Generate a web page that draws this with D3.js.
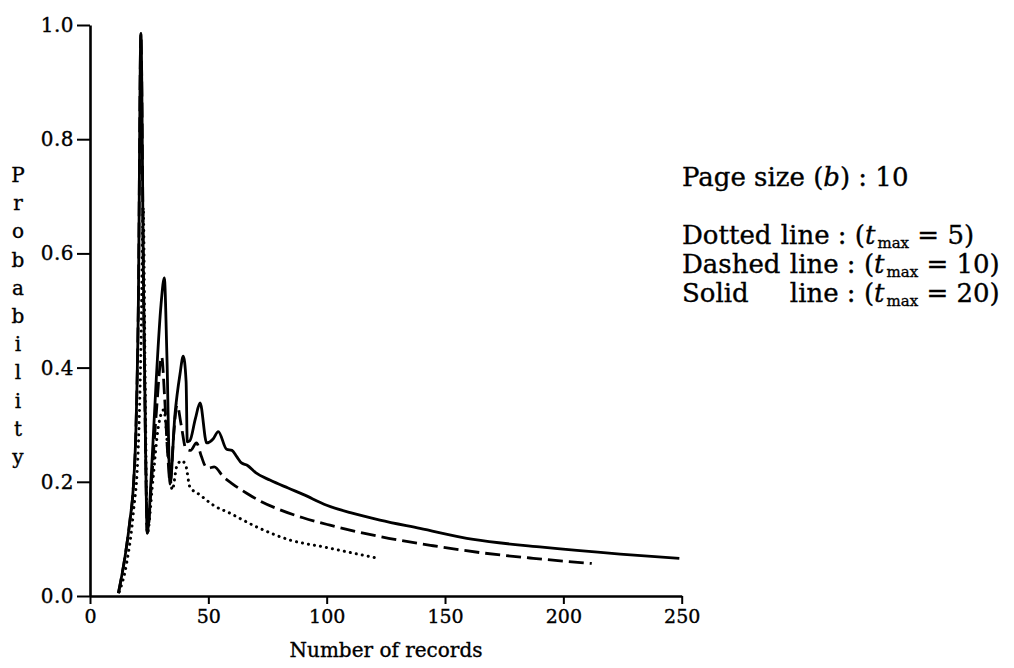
<!DOCTYPE html>
<html>
<head>
<meta charset="utf-8">
<script src="https://cdn.jsdelivr.net/npm/d3@7"></script>
<style>
  html, body { margin: 0; padding: 0; background: #fff; }
  svg { display: block; }
  text { font-family: "DejaVu Serif", serif; fill: #000; stroke: #000; stroke-width: 0.35px; }
</style>
</head>
<body>
<svg id="chart" width="1014" height="668"></svg>
<script>
// Probability curves against number of records (page size b = 10)

// Solid line, t_max = 20
const solidX = [12, 14.8, 16.9, 18.3, 19.4, 20.4, 21.5, 22.6, 23.5, 24.2, 26, 28, 30, 31.4, 32.5, 33.8,
  35.9, 38, 39.4, 40.6, 41.1, 42.2, 44.5, 46.5, 49.3, 52, 54.2, 57.7, 60, 62, 64, 66.4, 70, 76, 83.7,
  90, 100, 110, 122.5, 139.4, 162, 190, 224, 249];
const solidY = [0.005, 0.069, 0.133, 0.19, 0.29, 0.5, 0.985, 0.55, 0.25, 0.11, 0.22, 0.38, 0.51, 0.557, 0.42, 0.196,
  0.318, 0.388, 0.42, 0.376, 0.27, 0.272, 0.31, 0.338, 0.268, 0.275, 0.288, 0.257, 0.255, 0.244, 0.233, 0.229, 0.216, 0.203, 0.189,
  0.178, 0.159, 0.146, 0.133, 0.1185, 0.099, 0.086, 0.0735, 0.066];

// Dashed line, t_max = 10
const dashedX = [12, 14.8, 16.9, 18.3, 19.4, 20.4, 21.5, 22.6, 23.5, 24.2, 26, 28, 30.3, 31.5, 32.8, 33.9,
  35.3, 36.8, 38.5, 40.5, 42.5, 45, 47, 48.8, 50, 52.5, 56.3, 60, 66.2, 72, 80.3, 90, 101.4, 122.5,
  145, 164.8, 187.3, 212];
const dashedY = [0.005, 0.069, 0.133, 0.19, 0.29, 0.5, 0.985, 0.55, 0.25, 0.11, 0.2, 0.32, 0.419, 0.35, 0.25, 0.198,
  0.28, 0.335, 0.3, 0.258, 0.255, 0.268, 0.245, 0.227, 0.224, 0.226, 0.209, 0.197, 0.18, 0.166, 0.151, 0.137, 0.124, 0.104,
  0.088, 0.076, 0.066, 0.057];

// Dotted line, t_max = 5
const dottedX = [12.4, 15.5, 18.3, 20.4, 21.6, 22.5, 23.3, 24.2, 26.5, 28.9, 31.2, 33, 34.8, 36.6, 38.7, 40.5,
  42.2, 46.5, 52.1, 59.1, 70.4, 84.5, 98.6, 111.2, 121.8];
const dottedY = [0.0075, 0.058, 0.145, 0.26, 0.45, 0.68, 0.38, 0.11, 0.2, 0.297, 0.326, 0.25, 0.186, 0.226, 0.237, 0.228,
  0.191, 0.177, 0.159, 0.145, 0.121, 0.098, 0.086, 0.075, 0.066];

// Axis ticks and labels
const xTicks = [0, 50, 100, 150, 200, 250];
const yTicks = [0.0, 0.2, 0.4, 0.6, 0.8, 1.0];
const xTitle = "Number of records";
const yTitle = "Probability";

// Legend text
const pageSizeLabel = ["Page size (", "b", ") : 10"];
const legendNames = ["Dotted", "Dashed", "Solid"];
const legendTmax = ["5", "10", "20"];

const svg = d3.select("#chart");
const x = d3.scaleLinear().domain([0, 250]).range([90, 681.7]);
const y = d3.scaleLinear().domain([0, 1]).range([596, 25]);

// Axes
const yAxis = svg.append("g")
  .attr("transform", `translate(${x(0)},0)`)
  .call(d3.axisLeft(y).tickValues(yTicks).tickFormat(d3.format(".1f"))
    .tickSize(13).tickSizeOuter(0).tickPadding(3));
const xAxis = svg.append("g")
  .attr("transform", `translate(0,${y(0)})`)
  .call(d3.axisBottom(x).tickValues(xTicks).tickFormat(d3.format("d"))
    .tickSize(8).tickSizeOuter(0).tickPadding(6));

[yAxis, xAxis].forEach(g => {
  g.attr("font-family", null).attr("font-size", null);
  g.select(".domain").attr("stroke", "#000").attr("stroke-width", 2.6);
  g.selectAll(".tick line").attr("stroke", "#000").attr("stroke-width", 2);
  g.selectAll(".tick text")
    .style("font-family", "'DejaVu Serif', serif")
    .style("font-size", "19px");
});
yAxis.selectAll(".tick text").style("font-size", "20px").attr("letter-spacing", 0.5);

// Axis titles
svg.append("text")
  .attr("x", 386).attr("y", 657)
  .attr("text-anchor", "middle")
  .style("font-size", "20px")
  .text(xTitle);

svg.append("g").selectAll("text")
  .data(yTitle.split(""))
  .join("text")
  .attr("x", 18)
  .attr("y", (d, i) => 182 + i * 28.2)
  .attr("text-anchor", "middle")
  .style("font-size", "20px")
  .text(d => d);

// Curves
const line = d3.line()
  .x(d => x(d[0]))
  .y(d => y(d[1]))
  .curve(d3.curveMonotoneX);

const zipXY = (xs, ys) => xs.map((v, i) => [v, ys[i]]);

svg.append("path")
  .datum(zipXY(dottedX, dottedY))
  .attr("fill", "none").attr("stroke", "#000")
  .attr("stroke-width", 3)
  .attr("stroke-linecap", "round")
  .attr("stroke-dasharray", "0.1,6")
  .attr("d", line);

svg.append("path")
  .datum(zipXY(dashedX, dashedY))
  .attr("fill", "none").attr("stroke", "#000")
  .attr("stroke-width", 2.8)
  .attr("stroke-dasharray", "15,6")
  .attr("d", line);

svg.append("path")
  .datum(zipXY(solidX, solidY))
  .attr("fill", "none").attr("stroke", "#000")
  .attr("stroke-width", 2.8)
  .attr("stroke-linejoin", "round")
  .attr("d", line);

// Legend
const legendX = 682;
const fs = 26;
const pg = svg.append("text").attr("x", legendX).attr("y", 186).style("font-size", fs + "px");
pg.append("tspan").text(pageSizeLabel[0]);
pg.append("tspan").attr("font-style", "italic").text(pageSizeLabel[1]);
pg.append("tspan").text(pageSizeLabel[2]);

const rowY = [244, 273, 302];
const gap = fs * 0.36;
let restX = null;
legendNames.forEach((name, i) => {
  const nameText = svg.append("text")
    .attr("x", legendX).attr("y", rowY[i]).style("font-size", fs + "px")
    .text(name);
  const w = nameText.node().getComputedTextLength();
  let rx = legendX + w + gap;
  if (name === "Dashed") restX = rx;
  if (name === "Solid") rx = restX;
  const t = svg.append("text").attr("x", rx).attr("y", rowY[i]).style("font-size", fs + "px");
  t.append("tspan").text("line : (");
  t.append("tspan").attr("font-style", "italic").text("t");
  t.append("tspan").style("font-size", "15px").attr("dx", 2).attr("dy", 4).text("max");
  t.append("tspan").attr("dy", -4).text("\u00a0= " + legendTmax[i] + ")");
});
</script>
</body>
</html>
